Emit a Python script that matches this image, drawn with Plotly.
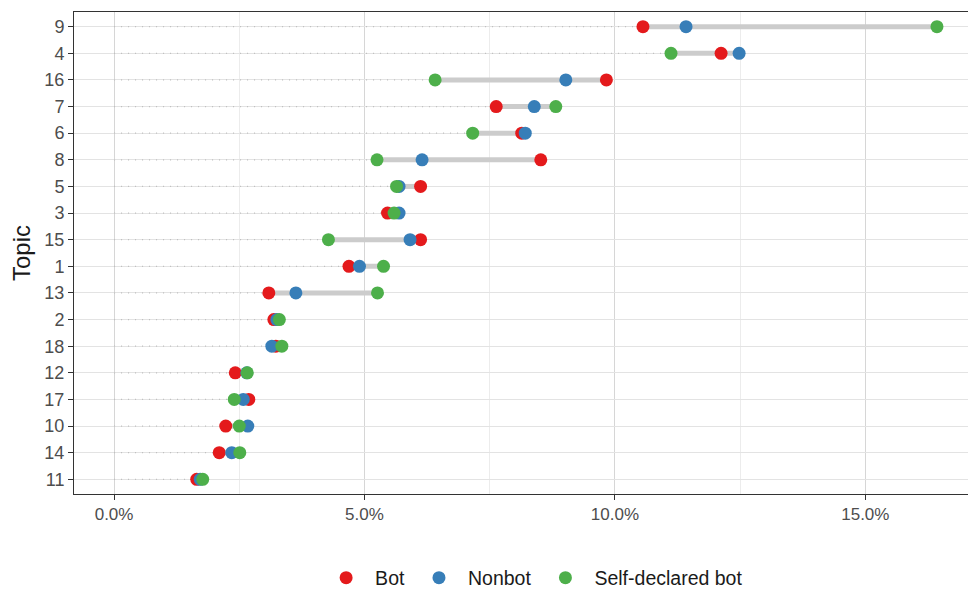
import plotly.graph_objects as go

# Topics, ordered top to bottom
topics = ["9", "4", "16", "7", "6", "8", "5", "3", "15", "1", "13", "2", "18", "12", "17", "10", "14", "11"]

# Share of tweets per topic (%)
bot = [10.56, 12.12, 9.83, 7.63, 8.14, 8.52, 6.12, 5.46, 6.12, 4.69, 3.09, 3.19, 3.23, 2.42, 2.69, 2.23, 2.10, 1.65]
nonbot = [11.42, 12.48, 9.02, 8.39, 8.21, 6.15, 5.69, 5.69, 5.91, 4.90, 3.63, 3.25, 3.15, 2.65, 2.58, 2.67, 2.35, 1.72]
selfbot = [16.43, 11.12, 6.41, 8.82, 7.16, 5.25, 5.64, 5.59, 4.28, 5.38, 5.26, 3.30, 3.35, 2.66, 2.40, 2.50, 2.51, 1.77]

groups = ["Bot", "Nonbot", "Self-declared bot"]
colors = ["#E41A1C", "#377EB8", "#4DAF4A"]

series = [[v / 100 for v in s] for s in (bot, nonbot, selfbot)]

fig = go.Figure()

# dotted guide from zero to the smallest value, grey range bar from min to max
gx, gy, rx, ry = [], [], [], []
for i, t in enumerate(topics):
    vals = [s[i] for s in series]
    lo, hi = min(vals), max(vals)
    gx += [0, lo, None]
    gy += [t, t, None]
    rx += [lo, hi, None]
    ry += [t, t, None]

fig.add_trace(go.Scatter(x=gx, y=gy, mode="lines", showlegend=False, hoverinfo="skip",
                         line=dict(color="#bdbdbd", width=1.2, dash="1px,6px")))
fig.add_trace(go.Scatter(x=rx, y=ry, mode="lines", showlegend=False, hoverinfo="skip",
                         line=dict(color="#cccccc", width=5)))

for name, col, vals in zip(groups, colors, series):
    fig.add_trace(go.Scatter(x=vals, y=topics, mode="markers", name=name,
                             marker=dict(color=col, size=13, line=dict(width=0))))

fig.update_layout(
    width=968, height=591,
    margin=dict(l=74, r=0, t=12, b=97, autoexpand=False),
    paper_bgcolor="white", plot_bgcolor="white",
    font=dict(family="Liberation Sans, Arial, sans-serif", color="#4d4d4d", size=16),
    legend=dict(orientation="h", x=0.513, xanchor="center",
                yref="container", y=0.022, yanchor="middle",
                font=dict(size=19.5, color="#1a1a1a"), itemwidth=48,
                traceorder="normal"),
)

fig.update_xaxes(
    range=[-0.008, 0.1705], tick0=0, dtick=0.05, tickformat=".1%",
    showline=True, mirror=True, linecolor="#333333", linewidth=1,
    ticks="outside", ticklen=5, tickcolor="#333333",
    showgrid=True, gridcolor="#d6d6d6", gridwidth=1, zeroline=False,
    minor=dict(dtick=0.025, tick0=0, showgrid=True, gridcolor="#ececec", gridwidth=1, ticks=""),
    tickfont=dict(size=17, color="#4d4d4d"), automargin=False,
)

fig.update_yaxes(
    type="category", categoryorder="array", categoryarray=topics[::-1],
    range=[-0.55, 17.55],
    showline=True, mirror=False, linecolor="#333333", linewidth=1,
    ticks="outside", ticklen=5, tickcolor="#333333",
    showgrid=True, gridcolor="#e3e3e3", gridwidth=1, zeroline=False,
    tickfont=dict(size=18, color="#4d4d4d"), automargin=False,
    title=dict(text="Topic", font=dict(size=24, color="#1a1a1a"), standoff=6),
)

fig.write_html("out.html")
